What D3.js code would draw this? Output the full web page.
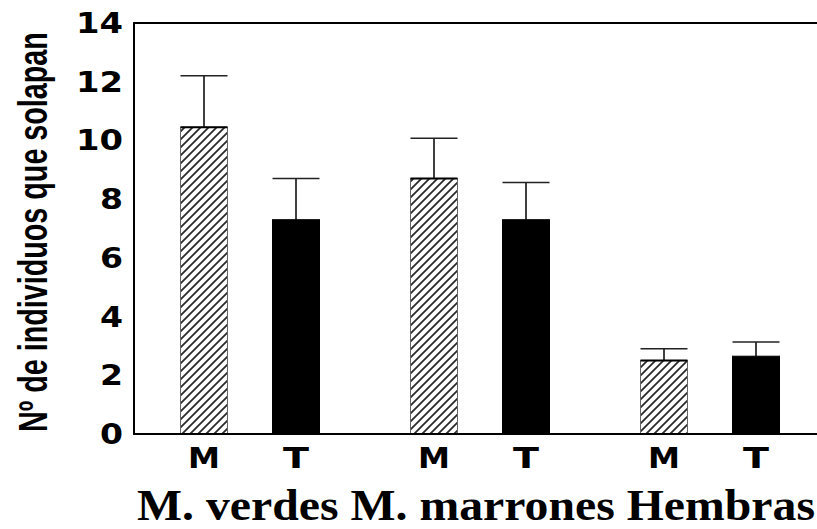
<!DOCTYPE html>
<html>
<head>
<meta charset="utf-8">
<script src="https://cdn.jsdelivr.net/npm/d3@7"></script>
<style>
  html, body { margin: 0; padding: 0; background: #fff; }
  svg { display: block; }
</style>
</head>
<body>
<svg id="chart" width="817" height="529"></svg>
<script>
// Groups and treatments
const groups = ["M. verdes", "M. marrones", "Hembras"];
const treatments = ["M", "T"];

// Mean number of overlapping individuals per group (M, T)
const meanM = [10.45, 8.7, 2.5];
const meanT = [7.3, 7.3, 2.65];

// Upper error (one-sided) per group
const errM = [1.75, 1.37, 0.4];
const errT = [1.4, 1.27, 0.48];

const yTicks = [0, 2, 4, 6, 8, 10, 12, 14];
const yLabel = "Nº de individuos que solapan";

(function () {
  const svg = d3.select("#chart");
  const plotL = 134, plotR = 817, plotT = 23, plotB = 434;

  const y = d3.scaleLinear().domain([0, 14]).range([plotB, plotT]);
  const xGroup = d3.scaleBand().domain(groups).range([135, 825]).padding(0);
  const xSub = d3.scalePoint().domain(treatments).range([0, xGroup.bandwidth()]).padding(0.75);
  const barW = 47;

  // Diagonal hatch for the M bars
  const defs = svg.append("defs");
  const pat = defs.append("pattern")
    .attr("id", "hatch")
    .attr("patternUnits", "userSpaceOnUse")
    .attr("width", 8).attr("height", 8);
  pat.append("rect").attr("width", 8).attr("height", 8).attr("fill", "#fff");
  pat.append("path")
    .attr("d", "M-2,2 L2,-2 M0,8 L8,0 M6,10 L10,6")
    .attr("stroke", "#2a2a2a").attr("stroke-width", 1.8);

  const rows = [];
  groups.forEach((g, i) => {
    rows.push({ group: g, t: "M", value: meanM[i], err: errM[i] });
    rows.push({ group: g, t: "T", value: meanT[i], err: errT[i] });
  });
  const cx = d => xGroup(d.group) + xSub(d.t);

  // Error bars (drawn behind the bars)
  const eb = svg.append("g");
  eb.selectAll("line.v").data(rows).join("line").attr("class", "v")
    .attr("x1", cx).attr("x2", cx)
    .attr("y1", d => y(d.value)).attr("y2", d => y(d.value + d.err))
    .attr("stroke", "#000").attr("stroke-width", 1.5);
  eb.selectAll("line.c").data(rows).join("line").attr("class", "c")
    .attr("x1", d => cx(d) - barW / 2).attr("x2", d => cx(d) + barW / 2)
    .attr("y1", d => y(d.value + d.err)).attr("y2", d => y(d.value + d.err))
    .attr("stroke", "#222").attr("stroke-width", 1.5);

  // Bars
  const bars = svg.append("g");
  bars.selectAll("rect").data(rows).join("rect")
    .attr("x", d => cx(d) - barW / 2)
    .attr("width", barW)
    .attr("y", d => y(d.value))
    .attr("height", d => y(0) - y(d.value))
    .attr("fill", d => d.t === "M" ? "url(#hatch)" : "#000")
    .attr("stroke", d => d.t === "M" ? "#666" : "#000")
    .attr("stroke-width", 1);
  // Heavier top edge on the hatched bars
  bars.selectAll("line.top").data(rows.filter(d => d.t === "M")).join("line").attr("class", "top")
    .attr("x1", d => cx(d) - barW / 2).attr("x2", d => cx(d) + barW / 2)
    .attr("y1", d => y(d.value)).attr("y2", d => y(d.value))
    .attr("stroke", "#000").attr("stroke-width", 2);

  // Axes frame: left, top and bottom lines
  svg.append("line").attr("x1", plotL).attr("x2", plotL).attr("y1", plotT - 1).attr("y2", plotB + 1)
    .attr("stroke", "#000").attr("stroke-width", 2);
  svg.append("line").attr("x1", plotL).attr("x2", plotR).attr("y1", plotT).attr("y2", plotT)
    .attr("stroke", "#000").attr("stroke-width", 2);
  svg.append("line").attr("x1", plotL).attr("x2", plotR).attr("y1", plotB).attr("y2", plotB)
    .attr("stroke", "#000").attr("stroke-width", 2);

  // Y tick labels
  svg.append("g").selectAll("text").data(yTicks).join("text")
    .attr("x", 123)
    .attr("y", d => y(d) + 10)
    .attr("text-anchor", "end")
    .attr("font-family", "DejaVu Sans, sans-serif")
    .attr("font-weight", "bold")
    .attr("font-size", 28)
    .attr("textLength", d => String(d).length === 1 ? 23 : 47)
    .attr("lengthAdjust", "spacingAndGlyphs")
    .text(d => d);

  // Treatment labels under each bar
  svg.append("g").selectAll("text").data(rows).join("text")
    .attr("x", cx)
    .attr("y", 468)
    .attr("text-anchor", "middle")
    .attr("font-family", "DejaVu Sans, sans-serif")
    .attr("font-weight", "bold")
    .attr("font-size", 29)
    .attr("textLength", d => d.t === "M" ? 32 : 26)
    .attr("lengthAdjust", "spacingAndGlyphs")
    .text(d => d.t);

  // Group names along the bottom
  svg.append("text")
    .attr("x", 137)
    .attr("y", 520)
    .attr("font-family", "Liberation Serif, Times New Roman, serif")
    .attr("font-weight", "bold")
    .attr("font-size", 45)
    .attr("textLength", 678)
    .attr("lengthAdjust", "spacingAndGlyphs")
    .text(groups.join(" "));

  // Y axis title: condensed horizontally to span 400px
  const yt = svg.append("text")
    .attr("font-family", "Liberation Sans, Arial, sans-serif")
    .attr("font-weight", "bold")
    .attr("font-size", 41)
    .text(yLabel);
  const natural = yt.node().getComputedTextLength();
  yt.attr("transform", `translate(47,432) rotate(-90) scale(${400 / natural},1)`);
})();
</script>
</body>
</html>
